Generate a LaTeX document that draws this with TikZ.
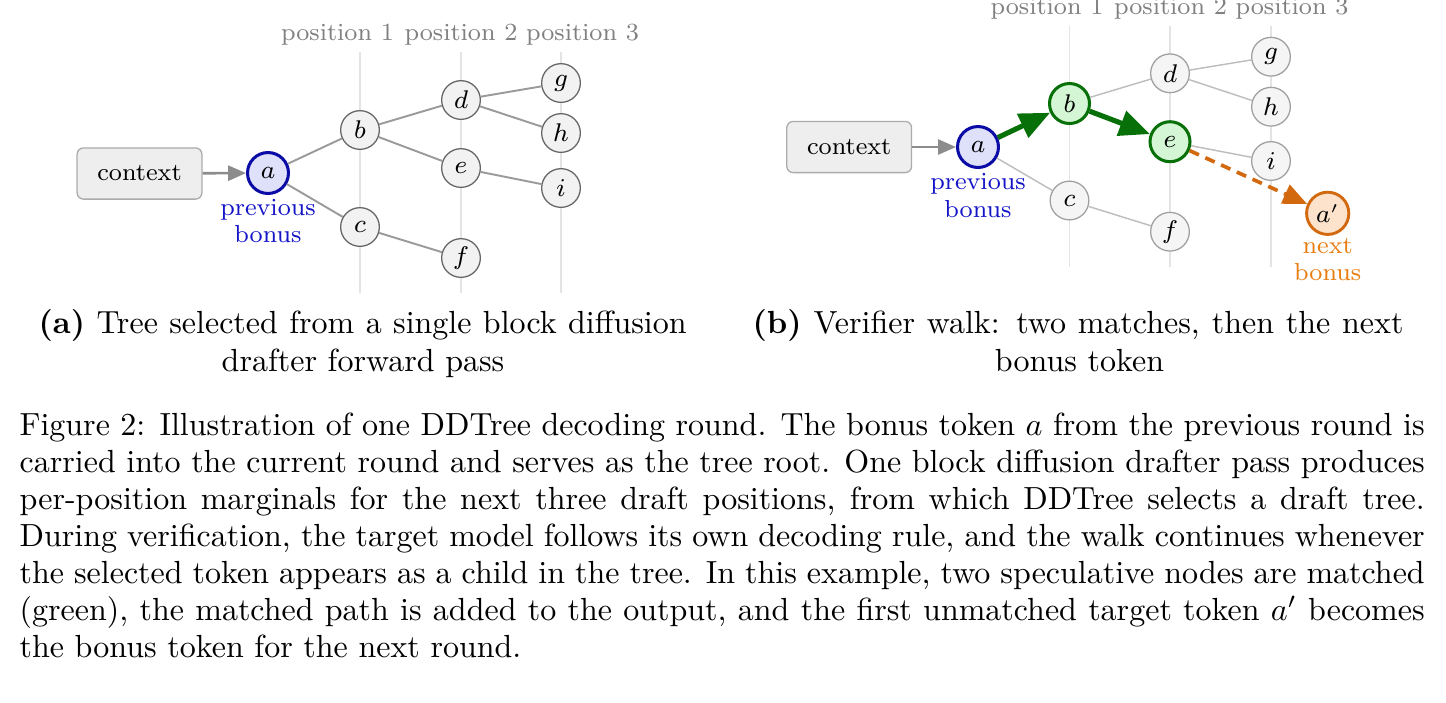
\documentclass[tikz,border=0pt]{standalone}
\usetikzlibrary{arrows.meta}
\definecolor{ngfill}{HTML}{F2F2F2}
\definecolor{ngdraw}{HTML}{666666}
\definecolor{nbfill}{HTML}{F5F5F5}
\definecolor{nbdraw}{HTML}{A0A0A0}
\definecolor{edgeA}{HTML}{9A9A9A}
\definecolor{edgeB}{HTML}{BDBDBD}
\definecolor{guidec}{HTML}{E4E4E4}
\definecolor{posgray}{HTML}{808080}
\definecolor{ctxfill}{HTML}{EEEEEE}
\definecolor{ctxdraw}{HTML}{ABABAB}
\definecolor{arrgray}{HTML}{8C8C8C}
\definecolor{rootfill}{HTML}{DFE1FA}
\definecolor{rootdraw}{HTML}{0B0BA6}
\definecolor{roottext}{HTML}{1515C8}
\definecolor{mfill}{HTML}{D5F6D5}
\definecolor{mdraw}{HTML}{087008}
\definecolor{ofill}{HTML}{FDE3CC}
\definecolor{odraw}{HTML}{D2690F}
\definecolor{otext}{HTML}{E87D12}
\tikzset{
  dfont/.style={font=\fontsize{7.7}{8.6}\selectfont},
  tok/.style={circle, draw=ngdraw, fill=ngfill, line width=0.4pt, minimum size=12.1pt, inner sep=0pt, dfont},
  tokb/.style={tok, draw=nbdraw, fill=nbfill},
  rootn/.style={circle, draw=rootdraw, fill=rootfill, line width=0.95pt, minimum size=12.8pt, inner sep=0pt, dfont},
  matchn/.style={circle, draw=mdraw, fill=mfill, line width=0.95pt, minimum size=12.5pt, inner sep=0pt, dfont},
  nextn/.style={circle, draw=odraw, fill=ofill, line width=0.9pt, minimum size=13.2pt, inner sep=0pt, dfont},
  ctx/.style={rectangle, rounded corners=2pt, draw=ctxdraw, fill=ctxfill, line width=0.4pt, minimum width=39pt, minimum height=16pt, inner sep=0pt, dfont},
  edgea/.style={draw=edgeA, line width=0.6pt},
  edgeb/.style={draw=edgeB, line width=0.45pt},
  guide/.style={draw=guidec, line width=0.45pt},
  ctxarrow/.style={draw=arrgray, line width=0.8pt, -{Triangle[length=5.6pt,width=4.7pt]}},
  matcharrow/.style={draw=mdraw, line width=1.6pt, -{Triangle[length=9.5pt,width=8pt]}},
  nextarrow/.style={draw=odraw, line width=1.15pt, dash pattern=on 3.2pt off 2.2pt, -{Triangle[length=7.5pt,width=6.3pt]}},
  poslabel/.style={text=posgray, dfont, inner sep=0pt, anchor=base},
  bonuslabel/.style={align=center, inner sep=0pt, dfont},
  capline/.style={anchor=base west, inner sep=0pt, font=\fontsize{10}{12}\selectfont},
  capmid/.style={anchor=base, inner sep=0pt, font=\fontsize{10}{12}\selectfont},
}
\begin{document}
\begin{tikzpicture}[x=0.3125pt, y=-0.3125pt]
\useasboundingbox (0,0) rectangle (1446,702);
% ---------------- panel (a) ----------------
\coordinate (ga1t) at (360,52);  \coordinate (ga1b) at (360,293);
\coordinate (ga2t) at (461,52);  \coordinate (ga2b) at (461,293);
\coordinate (ga3t) at (561,52);  \coordinate (ga3b) at (561,293);
\draw[guide] (ga1t) -- (ga1b);
\draw[guide] (ga2t) -- (ga2b);
\draw[guide] (ga3t) -- (ga3b);
\node[poslabel] (pa1) at (337.5,40.7) {position 1};
\node[poslabel] (pa2) at (461,40.7) {position 2};
\node[poslabel] (pa3) at (582.5,40.7) {position 3};
\node[ctx] (ctxa) at (139.5,173.5) {context};
\node[rootn] (aa) at (268,173) {$a$};
\node[tok] (ba) at (360,130) {$b$};
\node[tok] (ca) at (360,227) {$c$};
\node[tok] (da) at (461,100) {$d$};
\node[tok] (ea) at (461,168) {$e$};
\node[tok] (fa) at (461,258) {$f$};
\node[tok] (gA) at (561,83) {$g$};
\node[tok] (ha) at (561,133) {$h$};
\node[tok] (ia) at (561,188) {$i$};
\node[bonuslabel, text=roottext] (prevA) at (268,221) {previous\\bonus};
\draw[ctxarrow] (ctxa) -- (aa);
\draw[edgea] (aa) -- (ba);
\draw[edgea] (aa) -- (ca);
\draw[edgea] (ba) -- (da);
\draw[edgea] (ba) -- (ea);
\draw[edgea] (ca) -- (fa);
\draw[edgea] (da) -- (gA);
\draw[edgea] (da) -- (ha);
\draw[edgea] (ea) -- (ia);
% ---------------- panel (b) ----------------
\coordinate (gb1t) at (1069.5,25.5);  \coordinate (gb1b) at (1069.5,266.5);
\coordinate (gb2t) at (1170,25.5);    \coordinate (gb2b) at (1170,266.5);
\coordinate (gb3t) at (1271,25.5);    \coordinate (gb3b) at (1271,266.5);
\draw[guide] (gb1t) -- (gb1b);
\draw[guide] (gb2t) -- (gb2b);
\draw[guide] (gb3t) -- (gb3b);
\node[poslabel] (pb1) at (1047,14.2) {position 1};
\node[poslabel] (pb2) at (1170.5,14.2) {position 2};
\node[poslabel] (pb3) at (1292,14.2) {position 3};
\node[ctx] (ctxb) at (849.2,147) {context};
\node[rootn] (ab) at (978,147) {$a$};
\node[matchn] (bb) at (1069.5,103.5) {$b$};
\node[tokb] (cb) at (1069.5,200.5) {$c$};
\node[tokb] (db) at (1170,73.3) {$d$};
\node[matchn] (eb) at (1170,141.7) {$e$};
\node[tokb] (fb) at (1170,231.7) {$f$};
\node[tokb] (gb) at (1271,56.7) {$g$};
\node[tokb] (hb) at (1271,106.7) {$h$};
\node[tokb] (ib) at (1271,161) {$i$};
\node[nextn] (apb) at (1327.7,213.3) {$a'$};
\node[bonuslabel, text=roottext] (prevB) at (978,195.5) {previous\\bonus};
\node[bonuslabel, text=otext] (nextB) at (1327.7,259.5) {next\\bonus};
\draw[ctxarrow] (ctxb) -- (ab);
\draw[edgeb] (ab) -- (cb);
\draw[edgeb] (bb) -- (db);
\draw[edgeb] (cb) -- (fb);
\draw[edgeb] (db) -- (gb);
\draw[edgeb] (db) -- (hb);
\draw[edgeb] (eb) -- (ib);
\draw[matcharrow] (ab) -- (bb);
\draw[matcharrow] (bb) -- (eb);
\draw[nextarrow] (eb) -- (apb);
% ---------------- sub-captions ----------------
\node[capline] (suba1) at (38,333) {\makebox[202.5pt][s]{\textbf{(a)} Tree selected from a single block diffusion}};
\node[capmid] (suba2) at (363,371.5) {drafter forward pass};
\node[capline] (subb1) at (752,333) {\makebox[203.4pt][s]{\textbf{(b)} Verifier walk: two matches, then the next}};
\node[capmid] (subb2) at (1079.5,371.5) {bonus token};
% ---------------- main caption ----------------
\node[capline] (cap1) at (19,435) {\makebox[439.1pt][s]{Figure 2: Illustration of one DDTree decoding round. The bonus token $a$ from the previous round is}};
\node[capline] (cap2) at (19,472) {\makebox[439.1pt][s]{carried into the current round and serves as the tree root. One block diffusion drafter pass produces}};
\node[capline] (cap3) at (19,509) {\makebox[439.1pt][s]{per-position marginals for the next three draft positions, from which DDTree selects a draft tree.}};
\node[capline] (cap4) at (19,546) {\makebox[439.1pt][s]{During verification, the target model follows its own decoding rule, and the walk continues whenever}};
\node[capline] (cap5) at (19,583) {\makebox[439.1pt][s]{the selected token appears as a child in the tree. In this example, two speculative nodes are matched}};
\node[capline] (cap6) at (19,620) {\makebox[439.1pt][s]{(green), the matched path is added to the output, and the first unmatched target token $a'$ becomes}};
\node[capline] (cap7) at (19,657) {the bonus token for the next round.};
\end{tikzpicture}
\end{document}
